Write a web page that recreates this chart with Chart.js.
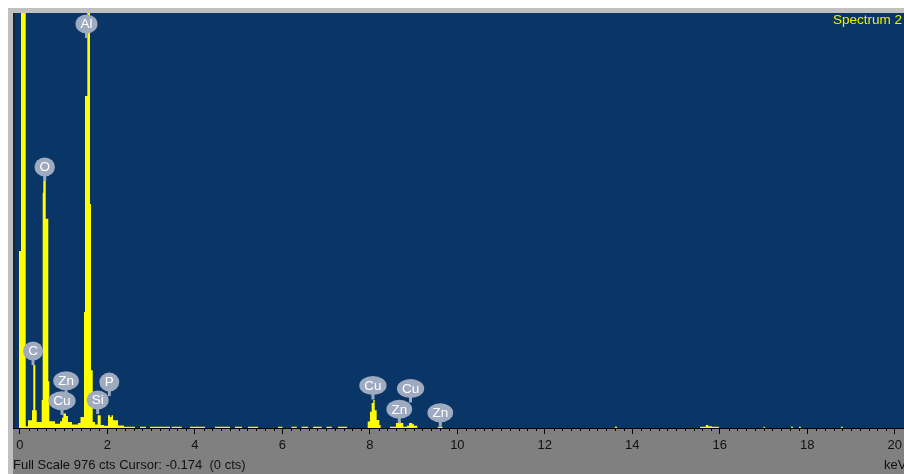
<!DOCTYPE html>
<html>
<head>
<meta charset="utf-8">
<script src="https://cdn.jsdelivr.net/npm/chart.js@4.4.0/dist/chart.umd.min.js"></script>
<style>
  html, body { margin: 0; padding: 0; background: #ffffff; }
  #wrap { width: 904px; height: 474px; }
</style>
</head>
<body>
<div id="wrap"><canvas id="spectrum" width="904" height="474"></canvas></div>
<script>
// EDS spectrum: start energy of each step (keV) and the counts held until the next step
const stepEnergy = [
  -0.158, -0.021, 0.025, 0.133, 0.185, 0.277, 0.306, 0.352, 0.384, 0.498,
  0.521, 0.535, 0.590, 0.649, 0.672, 0.802, 0.917, 0.962, 0.992, 1.054,
  1.099, 1.191, 1.328, 1.385, 1.465, 1.488, 1.541, 1.602, 1.625, 1.664,
  1.717, 1.778, 1.847, 1.922, 2.014, 2.059, 2.094, 2.128, 2.242, 2.379,
  2.471, 2.63, 2.745, 2.882, 2.975, 3.43, 3.47, 3.70, 3.888, 4.231,
  4.459, 4.802, 4.917, 5.077, 5.214, 5.443, 5.90, 6.00, 6.21, 6.33,
  6.44, 6.59, 6.70, 6.90, 7.01, 7.13, 7.27, 7.48, 7.950, 8.002,
  8.041, 8.078, 8.110, 8.155, 8.215, 8.247, 8.459, 8.597, 8.650, 8.711,
  8.764, 8.842, 8.894, 8.970, 9.009, 9.083, 9.55, 9.66, 13.60, 13.65,
  15.55, 15.68, 15.735, 15.82, 15.98, 17.00, 17.03, 17.63, 17.67, 17.81,
  17.85, 18.77, 18.81, 20.21
];
const stepCounts = [
  0, 416, 2400, 4, 18, 42, 148, 42, 14, 66,
  553, 581, 492, 110, 16, 10, 16, 24, 34, 28,
  14, 8, 12, 26, 273, 781, 3400, 527, 136, 14,
  8, 30, 7, 5, 30, 26, 30, 18, 6, 3,
  3, 0, 3, 0, 3, 0, 3, 0, 3, 0,
  3, 0, 3, 0, 3, 0, 3, 0, 3, 0,
  3, 0, 3, 0, 3, 0, 3, 0, 15, 38,
  59, 66, 42, 19, 7, 0, 3, 12, 15, 12,
  3, 5, 12, 9, 5, 0, 3, 0, 3, 0,
  3, 7, 4, 3, 0, 3, 0, 3, 0, 3,
  0, 3, 0, 0
];

// Element markers: symbol, line energy (keV), count level the marker points at
const markerSymbols = ['C', 'O', 'Zn', 'Cu', 'Al', 'Si', 'P', 'Cu', 'Cu', 'Zn', 'Zn'];
const markerEnergy  = [0.30, 0.567, 1.054, 0.962, 1.522, 1.778, 2.043, 8.07, 8.93, 8.672, 9.61];
const markerLevel   = [148, 581, 78, 31, 917, 33, 75, 67, 60, 11, 3];

// Axis settings
const fullScale = 976;
const energyMin = -0.158;
const energyMax = 20.21;
const majorStep = 2;
const minorStep = 0.2;
const cursorText = 'Cursor: -0.174  (0 cts)';
const spectrumName = 'Spectrum 2';

const FONT = '"Liberation Sans", Arial, sans-serif';
const points = stepEnergy.map((e, i) => ({ x: e, y: stepCounts[i] }));

const framePlugin = {
  id: 'frame',
  beforeDraw(chart) {
    const { ctx, chartArea: a, width, height } = chart;
    ctx.save();
    ctx.fillStyle = '#ffffff';
    ctx.fillRect(0, 0, width, height);
    ctx.fillStyle = '#c0c0c0';
    ctx.fillRect(8, 8, width - 8, height - 8);
    ctx.fillStyle = '#808080';
    ctx.fillRect(a.left, a.bottom, width - a.left, height - a.bottom);
    ctx.fillStyle = '#093667';
    ctx.fillRect(a.left, a.top, a.right - a.left, a.bottom - a.top);
    ctx.fillStyle = '#17243a';
    ctx.fillRect(a.left, a.top, 2, a.bottom - a.top);
    ctx.restore();
  },
  afterDraw(chart) {
    const { ctx, chartArea: a, scales } = chart;
    const x = scales.x;
    ctx.save();
    // minor ticks
    ctx.strokeStyle = '#000000';
    ctx.lineWidth = 1;
    ctx.beginPath();
    for (let k = 0; k * minorStep <= energyMax; k++) {
      if (k % Math.round(majorStep / minorStep) === 0) continue;
      const px = Math.round(x.getPixelForValue(k * minorStep)) + 0.5;
      ctx.moveTo(px, a.bottom);
      ctx.lineTo(px, a.bottom + 3);
    }
    ctx.stroke();
    // status line and unit
    ctx.font = '13px ' + FONT;
    ctx.fillStyle = '#111111';
    ctx.textBaseline = 'alphabetic';
    ctx.textAlign = 'left';
    ctx.fillText('Full Scale ' + fullScale + ' cts ' + cursorText, 13, 469);
    ctx.fillText('keV', 884, 469);
    // spectrum name
    ctx.fillStyle = '#f0f000';
    ctx.font = '13.5px ' + FONT;
    ctx.fillText(spectrumName, 833, 24);
    ctx.restore();
  }
};

const markerPlugin = {
  id: 'markers',
  afterDatasetsDraw(chart) {
    const { ctx, scales } = chart;
    ctx.save();
    ctx.font = '13.5px ' + FONT;
    markerSymbols.forEach((sym, i) => {
      const px = scales.x.getPixelForValue(markerEnergy[i]);
      const tip = scales.y.getPixelForValue(markerLevel[i]);
      const cy = tip - 14;
      const tw = ctx.measureText(sym).width;
      const rx = Math.max(10, tw / 2 + 5);
      const ry = 9.5;
      ctx.fillStyle = '#9eaac0';
      ctx.fillRect(px - 1.5, cy + 6, 3, tip - cy - 6);
      ctx.beginPath();
      ctx.ellipse(px, cy, rx, ry, 0, 0, Math.PI * 2);
      ctx.fill();
      ctx.fillStyle = '#ffffff';
      ctx.textAlign = 'center';
      ctx.textBaseline = 'middle';
      ctx.fillText(sym, px, cy + 0.5);
    });
    ctx.restore();
  }
};

new Chart(document.getElementById('spectrum'), {
  type: 'line',
  data: {
    datasets: [{
      data: points,
      stepped: 'before',
      fill: 'origin',
      backgroundColor: '#ffff00',
      borderColor: 'rgba(0,0,0,0)',
      borderWidth: 0,
      pointRadius: 0,
      tension: 0
    }]
  },
  options: {
    responsive: false,
    animation: false,
    devicePixelRatio: 1,
    layout: { padding: { top: 13, left: 13, right: 0, bottom: 0 } },
    plugins: { legend: { display: false }, tooltip: { enabled: false }, title: { display: false } },
    scales: {
      x: {
        type: 'linear',
        min: energyMin,
        max: energyMax,
        afterFit(s) { s.height = 46; s.paddingLeft = 0; s.paddingRight = 0; },
        grid: { drawOnChartArea: false, drawTicks: true, tickLength: 6, color: '#000000', tickColor: '#000000', lineWidth: 1 },
        border: { display: true, color: '#000000', width: 1 },
        ticks: {
          stepSize: majorStep,
          includeBounds: false,
          autoSkip: false,
          maxRotation: 0,
          padding: 4,
          color: '#111111',
          font: { family: FONT, size: 13 }
        }
      },
      y: { display: false, min: 0, max: fullScale }
    }
  },
  plugins: [framePlugin, markerPlugin]
});
</script>
</body>
</html>
